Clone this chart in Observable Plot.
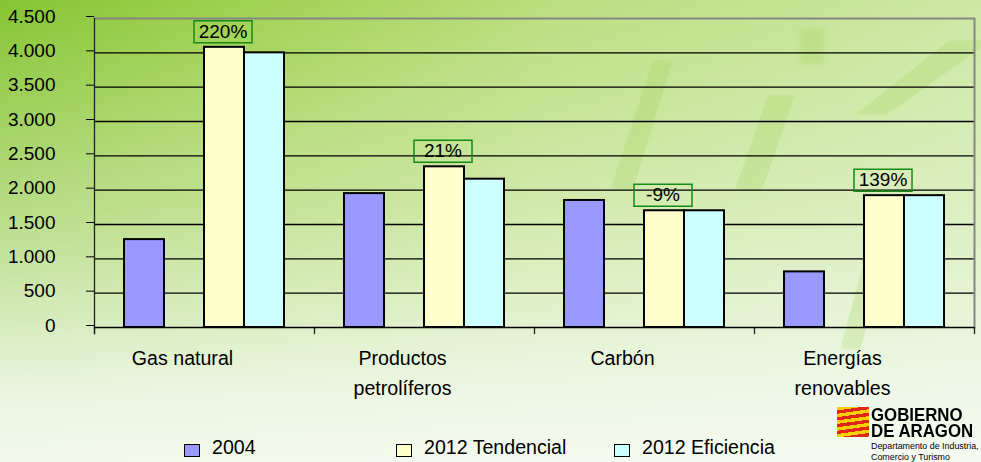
<!DOCTYPE html>
<html>
<head>
<meta charset="utf-8">
<script src="https://cdn.jsdelivr.net/npm/d3@7"></script>
<script src="https://cdn.jsdelivr.net/npm/@observablehq/plot@0.6"></script>
<style>
  html, body { margin: 0; padding: 0; }
  body {
    width: 981px; height: 462px; overflow: hidden; position: relative;
    font-family: "Liberation Sans", Arial, sans-serif; color: #000;
    background:
      linear-gradient(to bottom, rgba(255,255,255,0) 0%, rgba(240,248,232,0.45) 45%, rgba(242,249,238,0.92) 85%, rgba(246,251,243,0.97) 100%),
      linear-gradient(to right, #86c432 0%, #9fd150 25%, #b9de7c 55%, #cde8a4 100%);
  }
  .deco { position: absolute; background: rgba(150, 205, 75, 0.22); filter: blur(2px); }
  #chart { position: relative; }
  #chart svg { display: block; }
  #legend { position: relative; width: 981px; height: 42px; }
  .item { position: absolute; top: 18px; font-size: 19.6px; line-height: 19px; white-space: nowrap; }
  .sw { position: absolute; top: 24px; width: 14px; height: 11px; border: 1.5px solid #000; }
  #logo { position: absolute; left: 837px; top: 404px; }
  #flag { position: absolute; left: 0; top: 3px; width: 32px; height: 30px;
    background: repeating-linear-gradient(172deg, #f6d000 0px, #f6d000 3.4px, #e0261a 3.4px, #e0261a 6.7px); }
  #logo .t1 { position: absolute; left: 34px; font-family: "Liberation Sans", Arial, sans-serif;
    font-weight: bold; font-size: 18.7px; line-height: 15px; height: 15px; white-space: nowrap;
    transform: scaleX(0.9); transform-origin: 0 0; }
  #logo .t2 { position: absolute; left: 34px; font-family: "Liberation Sans", Arial, sans-serif;
    font-size: 8.9px; line-height: 10px; height: 10px; white-space: nowrap; }
</style>
</head>
<body>
<div class="deco" style="left:610px;top:60px;width:90px;height:130px;clip-path:polygon(48% 0,70% 0,25% 100%,0 100%)"></div>
<div class="deco" style="left:735px;top:95px;width:60px;height:95px;clip-path:polygon(55% 0,100% 0,45% 100%,0 100%)"></div>
<div class="deco" style="left:800px;top:28px;width:24px;height:36px"></div>
<div class="deco" style="left:855px;top:40px;width:126px;height:75px;clip-path:polygon(75% 0,100% 0,100% 10%,25% 100%,0 100%)"></div>
<div class="deco" style="left:840px;top:240px;width:50px;height:110px;clip-path:polygon(60% 0,100% 0,40% 100%,0 100%)"></div>
<div id="chart"></div>
<div id="legend"></div>
<div id="logo"><div id="flag"></div>
  <div class="t1" style="top:3px">GOBIERNO</div>
  <div class="t1" style="top:19px">DE ARAGON</div>
  <div class="t2" style="top:37px">Departamento de Industria,</div>
  <div class="t2" style="top:48px">Comercio y Turismo</div>
</div>
<script>
// ---- data ----
const categories = ["Gas natural", "Productos petrolíferos", "Carbón", "Energías renovables"];
const categoryLabels = ["Gas natural", "Productos\npetrolíferos", "Carbón", "Energías\nrenovables"];
const series = ["2004", "2012 Tendencial", "2012 Eficiencia"];
const seriesColors = ["#9999ff", "#ffffcc", "#ccffff"];
const values2004 = [1280, 1950, 1850, 810];
const valuesTendencial = [4080, 2340, 1700, 1920];
const valuesEficiencia = [4000, 2160, 1700, 1920];
const changeLabels = ["220%", "21%", "-9%", "139%"];
const yTicks = [0, 500, 1000, 1500, 2000, 2500, 3000, 3500, 4000, 4500];
const gridTicks = [500, 1000, 1500, 2000, 2500, 3000, 3500, 4000];

// slot order inside each category group (an empty slot separates 2004 from the 2012 bars)
const slots = ["2004", " ", "2012 Tendencial", "2012 Eficiencia"];

const seriesValues = [values2004, valuesTendencial, valuesEficiencia];
const rows = [];
categories.forEach((c, i) => series.forEach((s, j) => rows.push({category: c, series: s, value: seriesValues[j][i]})));
const labelRows = categories.map((c, i) => ({category: c, series: "2012 Tendencial", value: valuesTendencial[i], change: changeLabels[i]}));

const fmt = d => d3.format(",")(d).replace(/,/g, ".");
const H = 420, plotH = 309;

// fixed-size label box drawn as a custom dot symbol
const labelBox = {draw(context) { context.rect(-29, -11, 58, 22); }};

const chart = Plot.plot({
  width: 981,
  height: H,
  marginLeft: 93,
  marginRight: 7,
  marginTop: 18,
  marginBottom: H - 18 - plotH,
  style: {fontFamily: "'Liberation Sans', Arial, sans-serif", fontSize: "19px", background: "transparent", color: "#000", overflow: "visible"},
  fx: {domain: categories, padding: 0, label: null},
  x: {domain: slots, paddingInner: 0, paddingOuter: 0.75, axis: null},
  y: {domain: [0, 4500], axis: null},
  color: {domain: series, range: seriesColors},
  marks: [
    Plot.ruleY(gridTicks, {stroke: "#000", strokeWidth: 1.3}),
    Plot.ruleY([4500], {stroke: "#858585", strokeWidth: 2}),
    Plot.frame({anchor: "right", facetAnchor: "right", stroke: "#858585", strokeWidth: 2}),
    Plot.frame({anchor: "left", facetAnchor: "left", stroke: "#222", strokeWidth: 1.3, insetBottom: -6}),
    Plot.frame({anchor: "left", stroke: "#222", strokeWidth: 1.3, insetTop: plotH, insetBottom: -6}),
    Plot.frame({anchor: "right", facetAnchor: "right", stroke: "#222", strokeWidth: 1.3, insetTop: plotH, insetBottom: -6}),
    Plot.axisY({anchor: "left", ticks: yTicks, tickFormat: fmt, tickSize: 8, tickPadding: 31, dy: -2, label: null, fontSize: 19}),
    Plot.axisFx({anchor: "bottom", tickSize: 0, tickPadding: 17, dx: -22, lineHeight: 1.5, label: null, fontSize: 19.6,
      tickFormat: c => categoryLabels[categories.indexOf(c)]}),
    Plot.barY(rows, {fx: "category", x: "series", y: "value", fill: "series", stroke: "#000", strokeWidth: 2}),
    Plot.ruleY([0], {stroke: "#000", strokeWidth: 1.5}),
    Plot.dot(labelRows, {fx: "category", x: "series", y: "value", symbol: labelBox, dx: -1.5, dy: -15.5,
      fill: "none", stroke: "#168a16", strokeWidth: 1.5}),
    Plot.text(labelRows, {fx: "category", x: "series", y: "value", text: "change", dx: -1.5, dy: -15.5, fontSize: 19, fill: "#000"})
  ]
});
document.getElementById("chart").appendChild(chart);

// ---- legend ----
const legendLeft = [184, 396, 614];
const legend = document.getElementById("legend");
series.forEach((s, i) => {
  const sw = document.createElement("div");
  sw.className = "sw";
  sw.style.left = legendLeft[i] + "px";
  sw.style.background = seriesColors[i];
  legend.appendChild(sw);
  const t = document.createElement("div");
  t.className = "item";
  t.style.left = (legendLeft[i] + 28) + "px";
  t.textContent = s;
  legend.appendChild(t);
});
</script>
</body>
</html>
